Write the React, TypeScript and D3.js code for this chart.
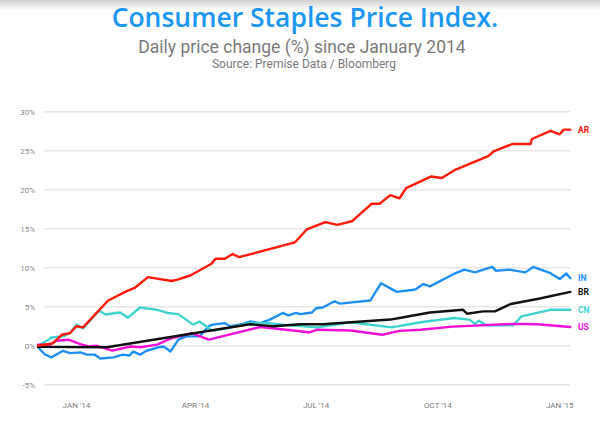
import React from "react";
import * as d3 from "d3";

// Days since 1 Jan 2014 and index change (%) for each series
const arDays = [-29, -18, -11, -5, 0, 5, 24, 38, 44, 54, 72, 77, 86, 102, 105, 112, 118, 123, 165, 174, 188, 197, 208, 223, 229, 237, 244, 249, 268, 276, 286, 311, 315, 329, 343, 344, 358, 365, 368, 373];
const arValues = [0, 0.3, 1.4, 1.6, 2.5, 2.35, 5.8, 7.0, 7.4, 8.8, 8.3, 8.5, 9.0, 10.5, 11.15, 11.15, 11.75, 11.35, 13.25, 14.9, 15.85, 15.5, 15.95, 18.2, 18.2, 19.3, 18.9, 20.2, 21.7, 21.5, 22.55, 24.3, 24.9, 25.85, 25.85, 26.5, 27.55, 27.1, 27.7, 27.7];

const inDays = [-29, -24, -19, -10, -5, 3, 8, 14, 18, 28, 35, 40, 43, 48, 53, 62, 66, 71, 77, 83, 88, 93, 100, 103, 112, 116, 126, 131, 139, 146, 156, 160, 166, 169, 178, 181, 186, 195, 199, 222, 230, 242, 256, 262, 267, 285, 293, 301, 314, 317, 327, 339, 345, 358, 365, 370, 373];
const inValues = [-0.2, -1.1, -1.5, -0.65, -0.95, -0.85, -1.15, -1.15, -1.65, -1.5, -1.15, -1.25, -0.75, -1.15, -0.65, -0.2, -0.1, -0.75, 0.77, 1.2, 1.2, 1.2, 2.5, 2.7, 2.9, 2.5, 2.8, 3.1, 2.9, 3.35, 4.2, 3.9, 4.2, 4.05, 4.25, 4.8, 4.9, 5.7, 5.4, 5.8, 8.0, 6.9, 7.2, 7.9, 7.6, 9.2, 9.75, 9.4, 10.1, 9.6, 9.75, 9.4, 10.1, 9.3, 8.55, 9.25, 8.65];

const brDays = [-29, 23, 131, 149, 169, 186, 237, 244, 267, 292, 295, 307, 316, 328, 350, 373];
const brValues = [-0.15, -0.2, 2.75, 2.5, 2.75, 2.75, 3.35, 3.55, 4.25, 4.6, 4.1, 4.4, 4.4, 5.35, 6.05, 6.9];

const cnDays = [-29, -21, -19, -10, -5, 0, 5, 17, 22, 33, 39, 48, 61, 69, 77, 88, 93, 98, 103, 114, 131, 146, 161, 182, 207, 238, 260, 285, 297, 301, 304, 310, 330, 336, 358, 373];
const cnValues = [0, 0.77, 1.06, 1.2, 1.6, 2.7, 2.2, 4.5, 4.0, 4.25, 3.6, 4.9, 4.6, 4.2, 4.05, 2.7, 3.1, 2.5, 1.9, 2.25, 2.9, 2.9, 2.6, 2.35, 3.0, 2.35, 3.0, 3.55, 3.35, 2.8, 3.2, 2.6, 2.6, 3.75, 4.6, 4.6];

const usDays = [-29, -20, -15, -6, 3, 9, 15, 27, 41, 48, 61, 71, 87, 100, 139, 169, 176, 182, 207, 231, 244, 260, 284, 330, 348, 373];
const usValues = [0.13, 0.13, 0.64, 0.77, 0.2, -0.1, 0, -0.64, -0.1, -0.2, 0.13, 0.9, 1.6, 0.77, 2.4, 1.85, 1.7, 2.05, 1.95, 1.4, 1.9, 2.05, 2.45, 2.8, 2.75, 2.4];

const seriesNames = ["IN", "CN", "US", "BR", "AR"];
const seriesColors = ["#1e90f5", "#3fd3cf", "#f20fd6", "#111111", "#ff1a0a"];
const seriesDays = [inDays, cnDays, usDays, brDays, arDays];
const seriesValues = [inValues, cnValues, usValues, brValues, arValues];

const yTicks = [-5, 0, 5, 10, 15, 20, 25, 30];
const xTickDates = ["2014-01-01", "2014-04-01", "2014-07-01", "2014-10-01", "2015-01-01"];
const xTickLabels = ["JAN '14", "APR '14", "JUL '14", "OCT '14", "JAN '15"];

const origin = new Date(2014, 0, 1);
const toDate = (d: number) => d3.timeDay.offset(origin, d);
const parse = d3.timeParse("%Y-%m-%d");

export default function App() {
  const W = 600, H = 429;
  const x = d3.scaleTime().domain([toDate(-29), toDate(372)]).range([38, 569]);
  const y = d3.scaleLinear().domain([-5, 30]).range([384.7, 111.7]);
  const line = d3
    .line<[number, number]>()
    .x((p) => x(toDate(p[0])))
    .y((p) => y(p[1]));

  return (
    <svg
      width={W}
      height={H}
      style={{ position: "absolute", left: 0, top: 0, background: "#fff" }}
    >
      <defs>
        <linearGradient id="topShade" x1="0" y1="0" x2="0" y2="1">
          <stop offset="0" stopColor="#cfcfcf" />
          <stop offset="1" stopColor="#ffffff" />
        </linearGradient>
      </defs>
      <rect x={0} y={0} width={W} height={H} fill="#fff" />
      <rect x={0} y={0} width={W} height={10} fill="url(#topShade)" />
      <text
        x={305}
        y={27}
        textAnchor="middle"
        fill="#1b96f3"
        fontFamily="Open Sans, sans-serif"
        fontWeight={600}
        fontSize={26.5}
      >
        Consumer Staples Price Index.
      </text>
      <text
        x={302}
        y={53}
        textAnchor="middle"
        fill="#7a7a7a"
        fontFamily="Roboto, sans-serif"
        fontSize={17.5}
      >
        Daily price change (%) since January 2014
      </text>
      <text
        x={304}
        y={68}
        textAnchor="middle"
        fill="#7a7a7a"
        fontFamily="Roboto, sans-serif"
        fontSize={12}
      >
        Source: Premise Data / Bloomberg
      </text>

      {yTicks.map((t) => (
        <g key={t}>
          <line x1={44} x2={570} y1={y(t)} y2={y(t)} stroke="#e6e6e6" strokeWidth={1.5} />
          <text
            x={35}
            y={y(t) + 3}
            textAnchor="end"
            fill="#8a8a8a"
            fontFamily="Roboto, sans-serif"
            fontSize={8}
          >
            {`${t}%`}
          </text>
        </g>
      ))}

      {xTickDates.map((d, i) => (
        <text
          key={d}
          x={x(parse(d) as Date)}
          y={408}
          textAnchor="middle"
          fill="#7a7a7a"
          fontFamily="Roboto, sans-serif"
          fontSize={8}
        >
          {xTickLabels[i]}
        </text>
      ))}

      {seriesNames.map((name, i) => {
        const pts = seriesDays[i].map((d, j) => [d, seriesValues[i][j]] as [number, number]);
        const last = pts[pts.length - 1];
        return (
          <g key={name}>
            <path
              d={line(pts) || ""}
              fill="none"
              stroke={seriesColors[i]}
              strokeWidth={2.4}
              strokeLinejoin="round"
              strokeLinecap="round"
            />
            <text
              x={578}
              y={y(last[1]) + 3}
              fill={seriesColors[i]}
              fontFamily="Roboto, sans-serif"
              fontWeight={700}
              fontSize={8.5}
            >
              {name}
            </text>
          </g>
        );
      })}
    </svg>
  );
}
